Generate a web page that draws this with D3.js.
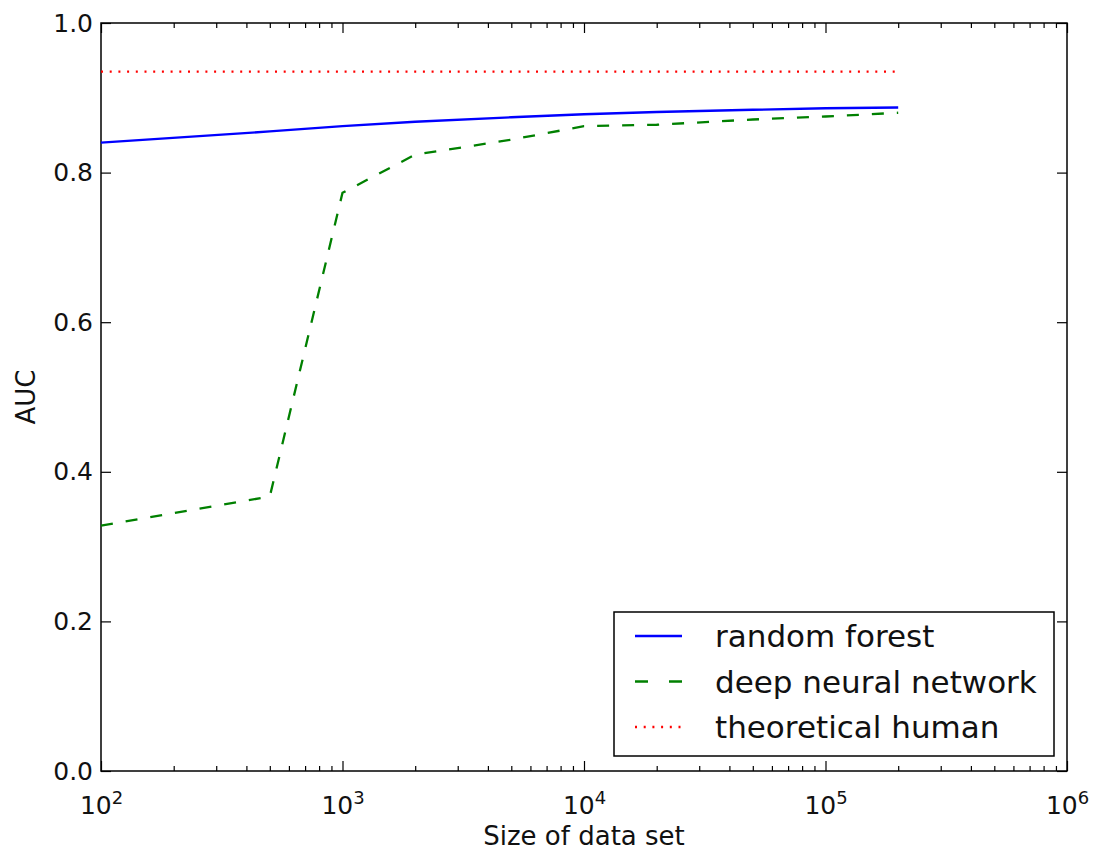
<!DOCTYPE html>
<html>
<head>
<meta charset="utf-8">
<script src="https://cdnjs.cloudflare.com/ajax/libs/d3/7.8.5/d3.min.js"></script>
<style>
  body { margin: 0; background: #fff; }
  svg text { font-family: "DejaVu Sans", sans-serif; fill: #111; }
</style>
</head>
<body>
<div id="container"></div>
<script>
var margin = {top: 23, right: 27, bottom: 81, left: 101},
    totalWidth = 1094,
    totalHeight = 852,
    width = totalWidth - margin.left - margin.right,
    height = totalHeight - margin.top - margin.bottom;

// data
var sizes = [100, 500, 1000, 2000, 5000, 10000, 20000, 50000, 100000, 200000];
var randomForest = [0.840, 0.855, 0.862, 0.868, 0.874, 0.878, 0.881, 0.884, 0.886, 0.887];
var deepNet = [0.328, 0.367, 0.773, 0.824, 0.844, 0.862, 0.864, 0.871, 0.875, 0.880];
var humanSizes = [100, 200000];
var humanAuc = [0.935, 0.935];
var xTicks = [1e2, 1e3, 1e4, 1e5, 1e6];
var yTicks = [0, 0.2, 0.4, 0.6, 0.8, 1.0];
var seriesNames = ["random forest", "deep neural network", "theoretical human"];

var xScale = d3.scaleLog().domain([1e2, 1e6]).range([0, width]);
var yScale = d3.scaleLinear().domain([0, 1]).range([height, 0]);

var minorTicks = [];
[1e2, 1e3, 1e4, 1e5].forEach(function(d) {
  for (var k = 2; k <= 9; k++) minorTicks.push(d * k);
});

var svg = d3.select("#container")
            .append("svg")
            .attr("width", totalWidth)
            .attr("height", totalHeight);
var g = svg.append("g")
           .attr("transform", "translate(" + margin.left + "," + margin.top + ")");

// axes: ticks point inward on all four sides
function styleAxis(sel) {
  sel.select(".domain").remove();
  sel.selectAll(".tick line").attr("stroke", "#000").attr("stroke-width", 1.2);
}

var xBottom = g.append("g")
   .attr("transform", "translate(0," + height + ")")
   .call(d3.axisBottom(xScale).tickValues(xTicks).tickSizeInner(-10).tickPadding(15)
         .tickFormat(function(d) { return ""; }))
   .call(styleAxis);
xBottom.selectAll(".tick text")
   .attr("font-size", 25)
   .attr("dy", "1.1em")
   .each(function(d) {
     var t = d3.select(this);
     t.append("tspan").text("10");
     t.append("tspan").attr("font-size", 18).attr("dy", "-0.55em")
      .text(Math.round(Math.log10(d)));
   });
g.append("g").attr("transform", "translate(0," + height + ")")
   .call(d3.axisBottom(xScale).tickValues(minorTicks).tickSizeInner(-5).tickFormat(""))
   .call(styleAxis);
g.append("g")
   .call(d3.axisBottom(xScale).tickValues(xTicks).tickSizeInner(10).tickFormat(""))
   .call(styleAxis);
g.append("g")
   .call(d3.axisBottom(xScale).tickValues(minorTicks).tickSizeInner(5).tickFormat(""))
   .call(styleAxis);

g.append("g")
   .call(d3.axisLeft(yScale).tickValues(yTicks).tickSizeInner(-10).tickPadding(8)
         .tickFormat(d3.format(".1f")))
   .call(styleAxis)
   .selectAll(".tick text").attr("font-size", 25);
g.append("g").attr("transform", "translate(" + width + ",0)")
   .call(d3.axisLeft(yScale).tickValues(yTicks).tickSizeInner(10).tickFormat(""))
   .call(styleAxis);

g.append("rect")
   .attr("width", width).attr("height", height)
   .attr("fill", "none").attr("stroke", "#000").attr("stroke-width", 1.5);

// axis labels
g.append("text")
   .attr("x", width / 2).attr("y", height + 74)
   .attr("text-anchor", "middle").attr("font-size", 26)
   .text("Size of data set");
g.append("text")
   .attr("transform", "translate(" + (-66) + "," + (height / 2) + ") rotate(-90)")
   .attr("text-anchor", "middle").attr("font-size", 26)
   .text("AUC");

// lines
var line = d3.line()
   .x(function(d) { return xScale(d[0]); })
   .y(function(d) { return yScale(d[1]); });

var styles = [
  {color: "#0000ff", dash: null, legendDash: null},
  {color: "#008000", dash: "12,13", legendDash: "13,21"},
  {color: "#ff0000", dash: "2,6.7", legendDash: "2,6.7"}
];
var seriesData = [
  d3.zip(sizes, randomForest),
  d3.zip(sizes, deepNet),
  d3.zip(humanSizes, humanAuc)
];

g.append("g").attr("class", "lines")
   .selectAll("path")
   .data(seriesData).enter()
   .append("path")
   .attr("fill", "none")
   .attr("stroke", function(d, i) { return styles[i].color; })
   .attr("stroke-width", 2.3)
   .attr("stroke-dasharray", function(d, i) { return styles[i].dash; })
   .attr("d", line);

// legend
var legendWrap = svg.append("g").attr("transform", "translate(614,612)");
legendWrap.append("rect")
   .attr("width", 440).attr("height", 144)
   .attr("fill", "#fff").attr("stroke", "#000").attr("stroke-width", 1.5);
var series = legendWrap.selectAll(".series")
   .data(seriesNames).enter()
   .append("g").attr("class", "series")
   .attr("transform", function(d, i) { return "translate(0," + (24 + i * 45.5) + ")"; });
series.append("line")
   .attr("x1", 21).attr("x2", 68)
   .attr("stroke", function(d, i) { return styles[i].color; })
   .attr("stroke-width", 2.3)
   .attr("stroke-dasharray", function(d, i) { return styles[i].legendDash; });
series.append("text")
   .attr("x", 101)
   .attr("dy", "0.36em")
   .attr("font-size", 31)
   .text(function(d) { return d; });
</script>
</body>
</html>
